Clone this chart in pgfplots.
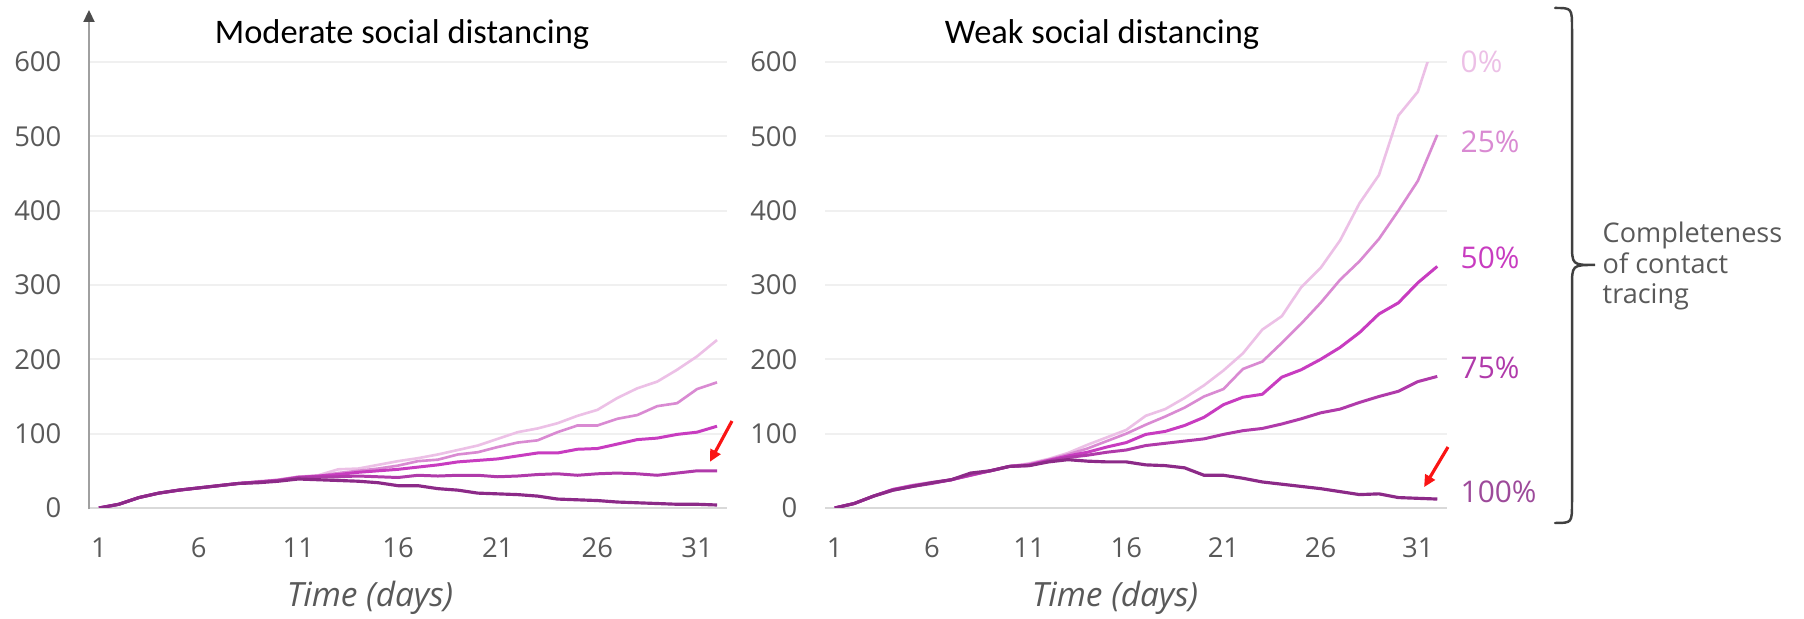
\documentclass[border=0pt]{standalone}
\usepackage{fontspec}
\setmainfont{Open Sans}
\newfontfamily\titlefont{Carlito}
\usepackage{pgfplots}
\pgfplotsset{compat=1.18}
\usepackage{pgfplotstable}
\usetikzlibrary{arrows.meta}
\definecolor{cz}{RGB}{236,192,230}
\definecolor{ctf}{RGB}{217,138,210}
\definecolor{cf}{RGB}{200,60,192}
\definecolor{css}{RGB}{176,58,170}
\definecolor{ch}{RGB}{140,42,136}
\definecolor{tickgray}{RGB}{89,89,89}
\definecolor{gridgray}{RGB}{240,240,240}
\definecolor{zerogray}{RGB}{217,217,217}
\definecolor{axgray}{RGB}{160,160,160}
\definecolor{arrred}{RGB}{250,20,20}

\pgfplotstableread{
day p0 p25 p50 p75 p100
1 0 0 0 0 0
2 5 5 5 5 5
3 14 14 14 14 14
4 20 20 20 20 20
5 24 24 24 24 24
6 27 27 27 27 27
7 30 30 30 30 30
8 33 33 33 33 33
9 36 35 35 35 34
10 38 38 37 37 36
11 42 42 41 41 39
12 44 43 43 42 38
13 52 47 45 42 37
14 53 50 48 43 36
15 58 53 50 42 34
16 63 57 52 41 30
17 67 63 55 44 30
18 72 65 58 43 26
19 78 72 62 44 24
20 84 75 64 44 20
21 93 82 66 42 19
22 102 88 70 43 18
23 107 91 74 45 16
24 114 102 74 46 12
25 124 111 79 44 11
26 132 111 80 46 10
27 148 120 86 47 8
28 161 125 92 46 7
29 170 137 94 44 6
30 186 141 99 47 5
31 204 160 102 50 5
32 226 169 110 50 4
}\moderate

\pgfplotstableread{
day p0 p25 p50 p75 p100
1 0 0 0 0 0
2 6 6 6 6 6
3 16 16 16 16 16
4 25 25 25 24 24
5 31 30 30 29 29
6 35 34 34 33 34
7 38 38 38 38 38
8 44 44 44 45 47
9 50 50 50 50 50
10 56 56 56 56 56
11 60 59 58 57 57
12 66 65 64 63 62
13 74 72 70 68 65
14 85 80 75 71 63
15 95 90 82 75 62
16 105 100 88 78 62
17 124 112 99 84 58
18 133 123 103 87 57
19 148 135 111 90 54
20 165 150 122 93 44
21 185 160 139 99 44
22 208 187 149 104 40
23 240 197 153 107 35
24 258 222 176 113 32
25 297 248 186 120 29
26 323 276 200 128 26
27 360 307 216 133 22
28 410 332 236 142 18
29 448 362 261 150 19
30 528 400 276 157 14
31 560 440 303 170 13
32 640 502 325 177 12
}\weak

\pgfplotsset{
  panel/.style={
    scale only axis, height=4.46cm,
    xmin=0.5, xmax=32.5, ymin=0, ymax=600,
    xtick={1,6,...,31}, ytick={0,100,...,600},
    axis line style={draw=none}, tick style={draw=none}, major tick length=0pt,
    ymajorgrids, grid style={gridgray, line width=0.5pt},
    clip mode=individual,
    /pgf/number format/assume math mode=true,
    ticklabel style={font=\fontsize{7.8}{9}\selectfont, text=tickgray, inner sep=0pt},
    xticklabel style={anchor=center, yshift=-0.40cm},
    yticklabel style={anchor=east, xshift=-0.27cm},
  },
  lz/.style={cz, line width=0.75pt},
  ltf/.style={ctf, line width=0.75pt},
  lf/.style={cf, line width=0.85pt},
  lss/.style={css, line width=0.85pt},
  lh/.style={ch, line width=0.9pt},
}

\begin{document}
\begin{tikzpicture}
% left panel
\begin{axis}[panel, at={(0.89cm,1.11cm)}, anchor=south west, width=6.38cm]
\draw[zerogray, line width=0.6pt] (axis cs:0.5,0) -- (axis cs:32.5,0);
\draw[axgray, line width=0.6pt, -{Triangle[length=1.2mm,width=1.1mm,color=black!70,fill=black!70]}] (axis cs:0.5,-2) -- (axis cs:0.5,670);
\addplot[lz] table[x=day,y=p0]{\moderate};
\addplot[ltf] table[x=day,y=p25]{\moderate};
\addplot[lf] table[x=day,y=p50]{\moderate};
\addplot[lss] table[x=day,y=p75]{\moderate};
\addplot[lh] table[x=day,y=p100]{\moderate};
\draw[arrred, line width=0.9pt, -{Triangle[length=1.2mm,width=1.1mm]}] (axis cs:32.75,117) -- (axis cs:31.64,62);
\end{axis}
% right panel
\begin{axis}[panel, at={(8.25cm,1.11cm)}, anchor=south west, width=6.22cm]
\draw[zerogray, line width=0.6pt] (axis cs:0.5,0) -- (axis cs:32.5,0);
\addplot[lz] table[x=day,y=p0]{\weak};
\addplot[ltf] table[x=day,y=p25]{\weak};
\addplot[lf] table[x=day,y=p50]{\weak};
\addplot[lss] table[x=day,y=p75]{\weak};
\addplot[lh] table[x=day,y=p100]{\weak};
\draw[arrred, line width=0.9pt, -{Triangle[length=1.2mm,width=1.1mm]}] (axis cs:32.55,82) -- (axis cs:31.32,28);
\end{axis}
% titles
\node[font=\titlefont\fontsize{9.8}{12}\selectfont] at (4.02,5.84) {Moderate social distancing};
\node[font=\titlefont\fontsize{9.8}{12}\selectfont] at (11.02,5.84) {Weak social distancing};
\node[font=\itshape\fontsize{9.5}{11}\selectfont, text=tickgray] at (3.70,0.21) {Time (days)};
\node[font=\itshape\fontsize{9.5}{11}\selectfont, text=tickgray] at (11.15,0.21) {Time (days)};
% percent labels
\begin{scope}[every node/.style={anchor=west, inner sep=0pt, font=\fontsize{8.5}{10}\selectfont}]
\node[text=cz] at (14.60,5.57) {0\%};
\node[text=ctf] at (14.60,4.77) {25\%};
\node[text=cf] at (14.60,3.61) {50\%};
\node[text=css] at (14.60,2.51) {75\%};
\node[text=ch!85!white] at (14.60,1.27) {100\%};
\end{scope}
% brace
\draw[line width=0.7pt, black!75, line cap=round]
 (15.55,6.11) .. controls (15.72,6.11) .. (15.72,5.90) -- (15.72,3.76)
 .. controls (15.72,3.54) .. (15.95,3.54)
 .. controls (15.72,3.54) .. (15.72,3.32) -- (15.72,1.17)
 .. controls (15.72,0.96) .. (15.55,0.96);
\node[anchor=west, inner sep=0pt, align=left, text=tickgray, font=\fontsize{7.7}{8.8}\selectfont] at (16.02,3.53) {Completeness\\of contact\\tracing};
\pgfresetboundingbox
\path[use as bounding box] (0,0) rectangle (18.04,6.19);
\end{tikzpicture}
\end{document}
